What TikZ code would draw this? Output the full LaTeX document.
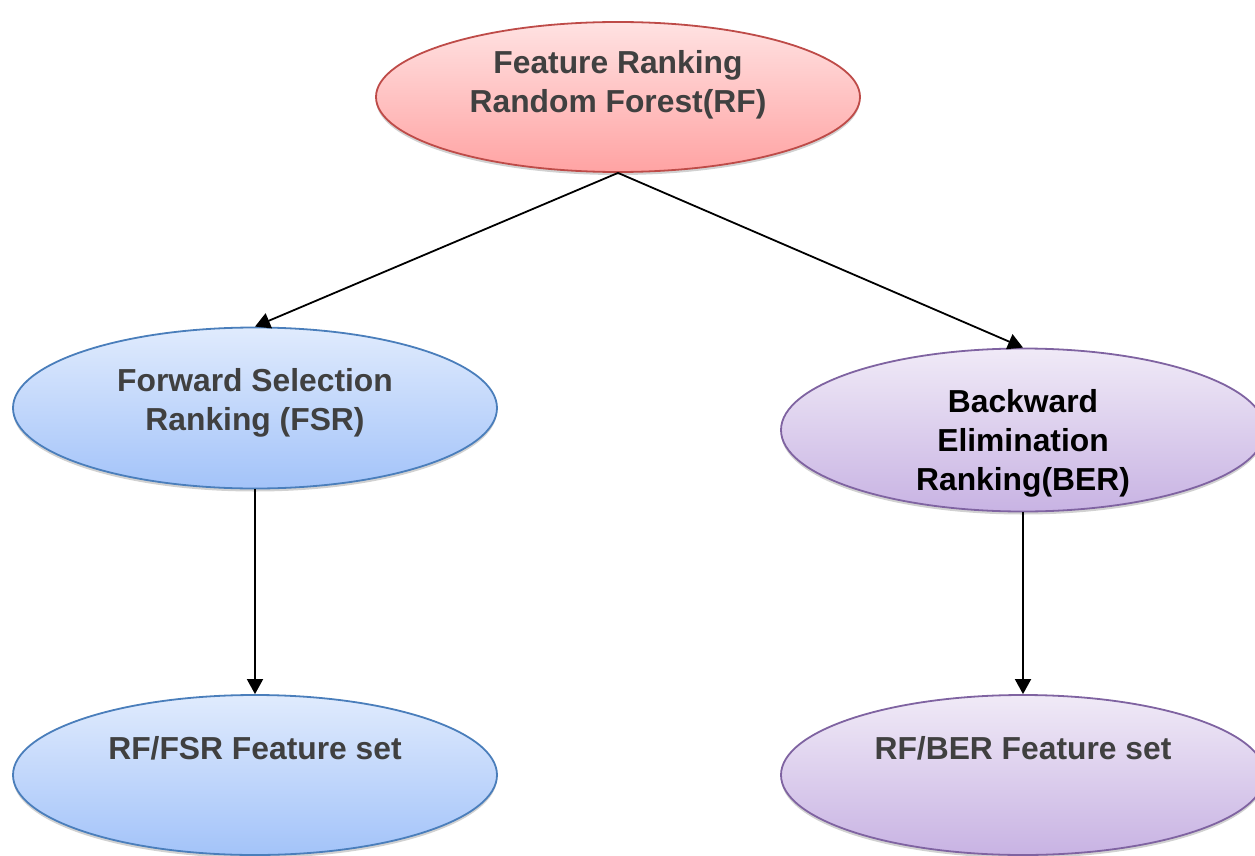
\documentclass[tikz,border=0pt]{standalone}
\usepackage{fontspec}
\setmainfont{Liberation Sans}
\usetikzlibrary{shapes.geometric,arrows.meta,shadows}

\definecolor{txtgray}{HTML}{404040}
\definecolor{redline}{HTML}{BE4B48}
\definecolor{redtop}{HTML}{FFE2E2}
\definecolor{redbot}{HTML}{FFA3A3}
\definecolor{blueline}{HTML}{4A7EBB}
\definecolor{bluetop}{HTML}{E0EBFD}
\definecolor{bluebot}{HTML}{A3C3F9}
\definecolor{purpline}{HTML}{7F63A1}
\definecolor{purptop}{HTML}{F0EAF7}
\definecolor{purpbot}{HTML}{C8B3E3}

\tikzset{
  bubble/.style={ellipse, inner sep=0pt, minimum width=484pt, line width=1.8pt,
    drop shadow={shadow xshift=0pt, shadow yshift=-3pt, opacity=0.18, fill=black}},
  redbubble/.style={bubble, draw=redline, top color=redtop, bottom color=redbot},
  bluebubble/.style={bubble, draw=blueline, top color=bluetop, bottom color=bluebot},
  purpbubble/.style={bubble, draw=purpline, top color=purptop, bottom color=purpbot},
  caption/.style={font=\fontsize{31.8}{39}\selectfont\bfseries, text=txtgray, align=center, inner sep=0pt},
  flow/.style={line width=1.8pt, -{Triangle[length=15pt,width=16pt]}}
}

\begin{document}
\begin{tikzpicture}[x=1pt,y=-1pt]
  \useasboundingbox (0,0) rectangle (1255,856);
  \clip (0,0) rectangle (1255,856);

  % ellipses
  \node[redbubble,  minimum height=150pt] (rf)     at (618,97)  {};
  \node[bluebubble, minimum height=161pt] (fsr)    at (255,408) {};
  \node[purpbubble, minimum height=163pt] (ber)    at (1023,430) {};
  \node[bluebubble, minimum height=160pt] (fsrset) at (255,775) {};
  \node[purpbubble, minimum height=160pt] (berset) at (1023,775) {};

  % captions
  \node[caption] (rftxt)  at (618,85)  {Feature Ranking\\Random Forest(RF)};
  \node[caption] (fsrtxt) at (255,403) {Forward Selection\\Ranking (FSR)};
  \node[caption, text=black] (bertxt) at (1023,443) {Backward\\Elimination\\Ranking(BER)};
  \node[caption, anchor=base] (fsrsettxt) at (255,759) {RF/FSR Feature set};
  \node[caption, anchor=base] (bersettxt) at (1023,759) {RF/BER Feature set};

  % connectors
  \draw[flow] (rf.south) -- (fsr.north);
  \draw[flow] (rf.south) -- (ber.north);
  \draw[flow] (fsr.south) -- (fsrset.north);
  \draw[flow] (ber.south) -- (berset.north);
\end{tikzpicture}
\end{document}
